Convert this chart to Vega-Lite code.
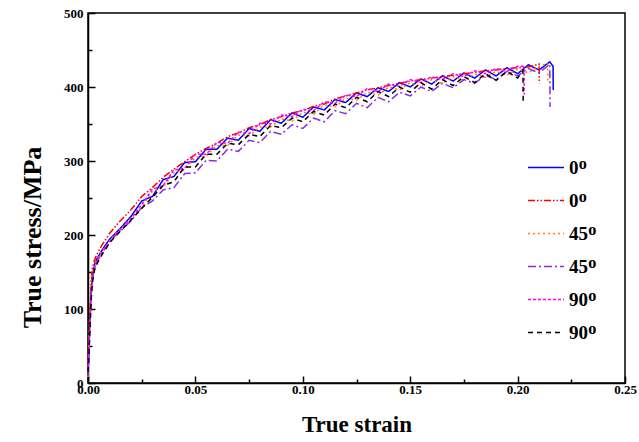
{
"$schema": "https://vega.github.io/schema/vega-lite/v6.json",
"width": 537, "height": 370,
"autosize": "none",
"padding": {"left": 88, "top": 13, "right": 14, "bottom": 59},
"background": "white",
"config": {
  "view": {"stroke": "black", "strokeWidth": 1.5},
  "font": "Liberation Serif",
  "axis": {"domainColor": "black", "domainWidth": 1.5, "tickColor": "black", "tickWidth": 1.5, "grid": false,
           "labelFont": "Liberation Serif", "labelFontWeight": "bold", "labelFontSize": 13, "labelColor": "black", "labelFlush": false,
           "titleFont": "Liberation Serif", "titleFontWeight": "bold", "titleColor": "black"}
},
"data": {"values": [
{"x":0,"a":10,"b":12,"c":8,"d":10,"e":14,"f":15},
{"x":0.0005,"a":55,"b":70,"c":60,"d":50,"e":45,"f":40},
{"x":0.001,"a":95,"b":110,"c":100,"d":90,"e":85,"f":80},
{"x":0.0015,"a":125,"b":138,"c":128,"d":120,"e":118,"f":112},
{"x":0.002,"a":145,"b":155,"c":148,"d":140,"e":138,"f":135},
{"x":0.003,"a":160,"b":166,"c":160,"d":156,"e":155,"f":152},
{"x":0.004,"a":167,"b":173,"c":166,"d":163,"e":163,"f":160},
{"x":0.006,"a":177,"b":184,"c":176,"d":174,"e":173,"f":171},
{"x":0.008,"a":186,"b":193,"c":184,"d":182,"e":183,"f":180},
{"x":0.01,"a":194,"b":202,"c":192,"d":190,"e":191,"f":189},
{"x":0.012,"a":200,"b":209,"c":199,"d":197,"e":198,"f":196},
{"x":0.015,"a":209,"b":219,"c":208,"d":205,"e":207,"f":205},
{"x":0.02,"a":225,"b":234,"c":223,"d":219,"e":222,"f":220},
{"x":0.025,"a":246,"b":252,"c":237,"d":237,"e":241,"f":236},
{"x":0.03,"a":252,"b":264,"c":259,"d":246,"e":262,"f":251},
{"x":0.035,"a":275,"b":278,"c":265,"d":261,"e":267,"f":267},
{"x":0.04,"a":279,"b":289,"c":284,"d":264,"e":288,"f":272},
{"x":0.045,"a":298,"b":299,"c":288,"d":283,"e":290,"f":292},
{"x":0.05,"a":299,"b":309,"c":305,"d":284,"e":309,"f":292},
{"x":0.055,"a":316,"b":317,"c":307,"d":301,"e":309,"f":309},
{"x":0.06,"a":316,"b":324,"c":321,"d":300,"e":325,"f":309},
{"x":0.065,"a":331,"b":333,"c":321,"d":316,"e":324,"f":324},
{"x":0.07,"a":328,"b":338,"c":335,"d":313,"e":339,"f":322},
{"x":0.075,"a":344,"b":345,"c":334,"d":328,"e":337,"f":336},
{"x":0.08,"a":340,"b":349,"c":346,"d":325,"e":351,"f":333},
{"x":0.085,"a":356,"b":356,"c":346,"d":340,"e":350,"f":348},
{"x":0.09,"a":351,"b":360,"c":357,"d":336,"e":362,"f":345},
{"x":0.095,"a":365,"b":365,"c":354,"d":349,"e":360,"f":358},
{"x":0.1,"a":359,"b":368,"c":366,"d":344,"e":370,"f":353},
{"x":0.105,"a":373,"b":374,"c":363,"d":358,"e":368,"f":367},
{"x":0.11,"a":369,"b":377,"c":376,"d":353,"e":380,"f":362},
{"x":0.115,"a":383,"b":384,"c":373,"d":368,"e":378,"f":377},
{"x":0.12,"a":379,"b":388,"c":385,"d":364,"e":389,"f":372},
{"x":0.125,"a":392,"b":392,"c":382,"d":378,"e":387,"f":386},
{"x":0.13,"a":387,"b":396,"c":393,"d":372,"e":398,"f":380},
{"x":0.135,"a":399,"b":399,"c":389,"d":386,"e":394,"f":394},
{"x":0.14,"a":394,"b":402,"c":400,"d":380,"e":404,"f":387},
{"x":0.145,"a":406,"b":405,"c":396,"d":393,"e":401,"f":400},
{"x":0.15,"a":400,"b":408,"c":406,"d":388,"e":410,"f":393},
{"x":0.155,"a":411,"b":410,"c":401,"d":400,"e":406,"f":406},
{"x":0.16,"a":404,"b":412,"c":410,"d":394,"e":414,"f":397},
{"x":0.165,"a":415,"b":414,"c":405,"d":405,"e":410,"f":410},
{"x":0.17,"a":408,"b":416,"c":414,"d":399,"e":418,"f":402},
{"x":0.175,"a":419,"b":418,"c":409,"d":410,"e":414,"f":414},
{"x":0.18,"a":412,"b":420,"c":418,"d":405,"e":422,"f":406},
{"x":0.185,"a":423,"b":422,"c":413,"d":416,"e":418,"f":418},
{"x":0.19,"a":415,"b":423,"c":421,"d":410,"e":425,"f":409},
{"x":0.195,"a":426,"b":425,"c":416,"d":421,"e":421,"f":421},
{"x":0.2,"a":418,"b":426,"c":424,"d":415,"e":428,"f":412},
{"x":0.2025,"f":422},
{"x":0.2026,"f":378},
{"x":0.203,"e":428},
{"x":0.2031,"e":390},
{"x":0.205,"a":430,"b":427,"c":419,"d":425},
{"x":0.21,"a":423,"b":431,"c":428,"d":419},
{"x":0.2101,"b":405},
{"x":0.214,"c":432},
{"x":0.2141,"c":405},
{"x":0.215,"a":434,"d":431},
{"x":0.2151,"d":373},
{"x":0.2165,"a":428},
{"x":0.2166,"a":396}
]},
"transform": [
  {"fold": ["a", "b", "c", "d", "e", "f"], "as": ["s", "y"]},
  {"filter": "isValid(datum.y)"}
],
"layer": [
  {
    "mark": {"type": "point", "opacity": 0, "size": 0},
    "encoding": {
      "x": {"field": "x", "type": "quantitative", "scale": {"domain": [0, 0.25], "nice": false},
            "axis": {"orient": "bottom", "values": [0.025, 0.075, 0.125, 0.175, 0.225], "tickSize": -4, "labels": false, "domain": false, "title": null}},
      "y": {"field": "y", "type": "quantitative", "scale": {"domain": [0, 500], "nice": false},
            "axis": {"orient": "left", "values": [50, 150, 250, 350, 450], "tickSize": -4, "labels": false, "domain": false, "title": null}}
    }
  },
  {
    "mark": {"type": "line", "strokeWidth": 1.5},
    "encoding": {
      "x": {"field": "x", "type": "quantitative", "scale": {"domain": [0, 0.25], "nice": false},
            "axis": {"orient": "bottom", "values": [0, 0.05, 0.1, 0.15, 0.2, 0.25], "format": ".2f", "tickSize": -7, "labelPadding": 7,
                     "title": "True strain", "titleFontSize": 23, "titlePadding": 17}},
      "y": {"field": "y", "type": "quantitative", "scale": {"domain": [0, 500], "nice": false},
            "axis": {"orient": "left", "values": [0, 100, 200, 300, 400, 500], "tickSize": -7, "labelPadding": 12,
                     "title": "True stress/MPa", "titleFontSize": 26, "titlePadding": 18, "titleY": 224}},
      "color": {"field": "s", "type": "nominal",
                "scale": {"domain": ["a", "b", "c", "d", "e", "f"], "range": ["#0000FF", "#FF0000", "#FF8000", "#8A2BE2", "#FF00FF", "#000000"]},
                "legend": {"title": null, "orient": "none", "legendX": 439, "legendY": 138, "symbolType": "stroke", "symbolSize": 1296,
                           "symbolStrokeWidth": 1.5, "labelFont": "Liberation Serif", "labelFontWeight": "bold", "labelFontSize": 19, "labelColor": "black",
                           "clipHeight": 33, "rowPadding": 0, "labelOffset": 4, "padding": 0,
                           "labelExpr": "datum.label == 'a' || datum.label == 'b' ? '0ᴼ' : (datum.label == 'c' || datum.label == 'd' ? '45ᴼ' : '90ᴼ')"}},
      "strokeDash": {"field": "s", "type": "nominal",
                "scale": {"domain": ["a", "b", "c", "d", "e", "f"], "range": [[1, 0], [7, 2, 1.5, 2, 1.5, 2], [2, 3], [8, 3, 2, 3], [3, 2], [5, 4]]},
                "legend": {"title": null, "orient": "none", "legendX": 439, "legendY": 138, "symbolType": "stroke", "symbolSize": 1296,
                           "symbolStrokeWidth": 1.5, "labelFont": "Liberation Serif", "labelFontWeight": "bold", "labelFontSize": 19, "labelColor": "black",
                           "clipHeight": 33, "rowPadding": 0, "labelOffset": 4, "padding": 0,
                           "labelExpr": "datum.label == 'a' || datum.label == 'b' ? '0ᴼ' : (datum.label == 'c' || datum.label == 'd' ? '45ᴼ' : '90ᴼ')"}}
    }
  }
],
"resolve": {"axis": {"x": "independent", "y": "independent"}}
}
